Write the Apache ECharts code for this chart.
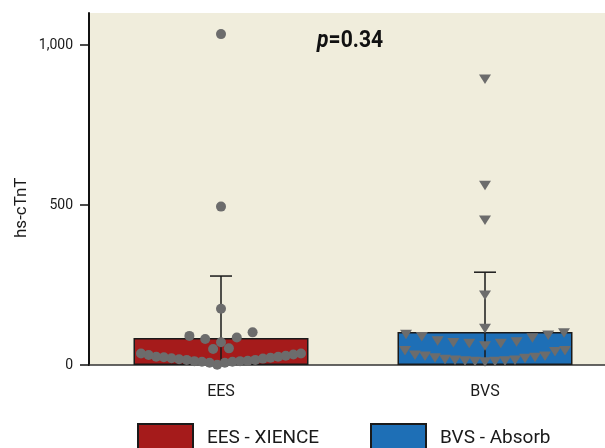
<!DOCTYPE html>
<html>
<head>
<meta charset="utf-8">
<script src="https://cdn.jsdelivr.net/npm/echarts@6/dist/echarts.min.js"></script>
<style>
  html, body { margin: 0; padding: 0; background: #ffffff; }
  #chart { width: 605px; height: 448px; }
</style>
</head>
<body>
<div id="chart"></div>
<script>
// Groups on the x axis and their legend names
const categories = ['EES', 'BVS'];
const seriesNames = ['EES - XIENCE', 'BVS - Absorb'];

// Group means (bar heights) and standard deviations (error bars)
const means = [84, 103];
const sds = [194, 187];

// Individual hs-cTnT measurements per group
const eesValues = [
  1, 7, 7, 10, 10, 12, 12, 13, 16, 16, 18, 20, 21, 23, 24, 26, 26, 29, 31, 33, 36, 36,
  50, 52,
  71, 81, 86, 91, 102,
  176, 495, 1034
];
const bvsValues = [
  10, 12, 12, 13, 13, 16, 16, 18, 21, 23, 24, 28, 28, 31, 42, 45, 45,
  60, 68, 68, 70, 73, 76, 85, 89, 94, 96, 101,
  115, 219, 453, 562, 894
];

// Y axis tick values
const yTicks = [0, 500, 1000];
const pValueText = '0.34';

const FONT = "'Roboto', 'Liberation Sans', sans-serif";
const RED = '#A51B1B';
const BLUE = '#1E6FB6';
const DOT = '#6C6C6C';

// Scatter-dot layout: values that sit close together share a row and
// spread sideways from the centre, lowest value in the middle.
function swarm(values, maxStep, maxWidth, rowGap) {
  const sorted = values.slice().sort((a, b) => a - b);
  const rows = [];
  let row = [];
  sorted.forEach(v => {
    if (row.length && v - row[row.length - 1] >= rowGap) { rows.push(row); row = []; }
    row.push(v);
  });
  if (row.length) rows.push(row);
  const out = [];
  rows.forEach(r => {
    const n = r.length;
    const step = n > 1 ? Math.min(maxStep, maxWidth / (n - 1)) : 0;
    r.forEach((v, k) => {
      let slot;
      if (n % 2) {
        slot = k === 0 ? 0 : Math.ceil(k / 2) * (k % 2 ? -1 : 1);
      } else {
        slot = (Math.floor(k / 2) + 0.5) * (k % 2 ? 1 : -1);
      }
      out.push([v, slot * step]);
    });
  });
  return out;
}

const eesPoints = swarm(eesValues, 15.8, 160, 12).map(p => [0, p[0], p[1]]);
const bvsPoints = swarm(bvsValues, 15.8, 160, 12).map(p => [1, p[0], p[1]]);

const errData = means.map((m, i) => [i, Math.max(0, m - sds[i]), m + sds[i]]);

const chart = echarts.init(document.getElementById('chart'), null, { renderer: 'canvas' });

const legendBase = {
  top: 423, padding: 0,
  icon: 'rect',
  itemWidth: 55, itemHeight: 28,
  textStyle: { fontFamily: FONT, fontSize: 19, color: '#1a1a1a', padding: [0, 0, 0, 9] }
};

const option = {
  animation: false,
  backgroundColor: '#ffffff',
  grid: {
    left: 89, top: 13, width: 528, height: 352,
    outerBoundsMode: 'none',
    containLabel: false,
    show: true, backgroundColor: '#F0EDDC', borderWidth: 0
  },
  legend: [
    Object.assign({}, legendBase, { data: [seriesNames[0]], left: 137 }),
    Object.assign({}, legendBase, { data: [seriesNames[1]], left: 370 })
  ],
  xAxis: {
    type: 'category',
    data: categories,
    axisLine: { lineStyle: { color: '#333333', width: 1.5 } },
    axisTick: { alignWithLabel: true, length: 7, lineStyle: { color: '#333333', width: 1.2 } },
    axisLabel: { fontFamily: FONT, fontSize: 16, color: '#1a1a1a', margin: 19 },
    splitLine: { show: false }
  },
  yAxis: {
    type: 'value',
    min: 0, max: 1100,
    axisLine: { show: true, lineStyle: { color: '#111111', width: 2 } },
    axisTick: { show: false },
    axisLabel: {
      customValues: yTicks,
      fontFamily: FONT, fontSize: 14, color: '#1a1a1a', margin: 16,
      formatter: v => v.toLocaleString('en-US')
    },
    splitLine: { show: false }
  },
  graphic: [
    {
      type: 'text',
      x: 13, y: 238,
      rotation: Math.PI / 2,
      style: { text: 'hs-cTnT', fontFamily: FONT, fontSize: 17, fill: '#1a1a1a' }
    },
    {
      type: 'text',
      x: 317, y: 29,
      scaleX: 0.88,
      style: {
        text: '{p|p}{v|=' + pValueText + '}',
        rich: {
          p: { fontFamily: FONT, fontSize: 24, fontWeight: 'bold', fontStyle: 'italic', fill: '#111111' },
          v: { fontFamily: FONT, fontSize: 24, fontWeight: 'bold', fill: '#111111' }
        }
      }
    }
  ],
  series: [
    {
      name: seriesNames[0], type: 'bar',
      data: means.map((m, i) => (i === 0 ? m : '-')),
      barWidth: 175, barGap: '-100%',
      itemStyle: { color: RED, borderColor: '#1a1a1a', borderWidth: 1.5 },
      z: 2
    },
    {
      name: seriesNames[1], type: 'bar',
      data: means.map((m, i) => (i === 1 ? m : '-')),
      barWidth: 175, barGap: '-100%',
      itemStyle: { color: BLUE, borderColor: '#1a1a1a', borderWidth: 1.5 },
      z: 2
    },
    {
      // outward tick marks on the value axis, one per labelled value
      name: 'y ticks', type: 'custom', z: 5, silent: true,
      data: yTicks.map(v => [0, v]),
      encode: { x: 0, y: 1 },
      renderItem: (params, api) => {
        const c = api.coord([0, api.value(1)]);
        const x0 = params.coordSys.x;
        return { type: 'line',
          shape: { x1: x0 - 9, y1: c[1], x2: x0, y2: c[1] },
          style: { stroke: '#111111', lineWidth: 1.5 } };
      }
    },
    {
      name: 'SD', type: 'custom', z: 3,
      data: errData,
      encode: { x: 0, y: [1, 2] },
      renderItem: (params, api) => {
        const i = api.value(0);
        const lo = api.value(1);
        const top = api.coord([i, api.value(2)]);
        const bot = api.coord([i, lo]);
        const cap = 11;
        const children = [
          { type: 'line', shape: { x1: top[0], y1: top[1], x2: bot[0], y2: bot[1] },
            style: { stroke: '#1a1a1a', lineWidth: 1.5 } },
          { type: 'line', shape: { x1: top[0] - cap, y1: top[1], x2: top[0] + cap, y2: top[1] },
            style: { stroke: '#1a1a1a', lineWidth: 1.5 } }
        ];
        if (lo > 0) {
          children.push({ type: 'line', shape: { x1: bot[0] - cap, y1: bot[1], x2: bot[0] + cap, y2: bot[1] },
            style: { stroke: '#1a1a1a', lineWidth: 1.5 } });
        }
        return { type: 'group', children };
      }
    },
    {
      name: 'EES points', type: 'custom', z: 4,
      data: eesPoints,
      encode: { x: 0, y: 1 },
      renderItem: (params, api) => {
        const c = api.coord([api.value(0), api.value(1)]);
        return { type: 'circle', shape: { cx: c[0] + api.value(2), cy: c[1], r: 5 },
          style: { fill: DOT } };
      }
    },
    {
      name: 'BVS points', type: 'custom', z: 4,
      data: bvsPoints,
      encode: { x: 0, y: 1 },
      renderItem: (params, api) => {
        const c = api.coord([api.value(0), api.value(1)]);
        const x = c[0] + api.value(2), y = c[1];
        return { type: 'polygon',
          shape: { points: [[x - 6, y - 4.5], [x + 6, y - 4.5], [x, y + 5]] },
          style: { fill: DOT } };
      }
    }
  ]
};

chart.setOption(option);
</script>
</body>
</html>
